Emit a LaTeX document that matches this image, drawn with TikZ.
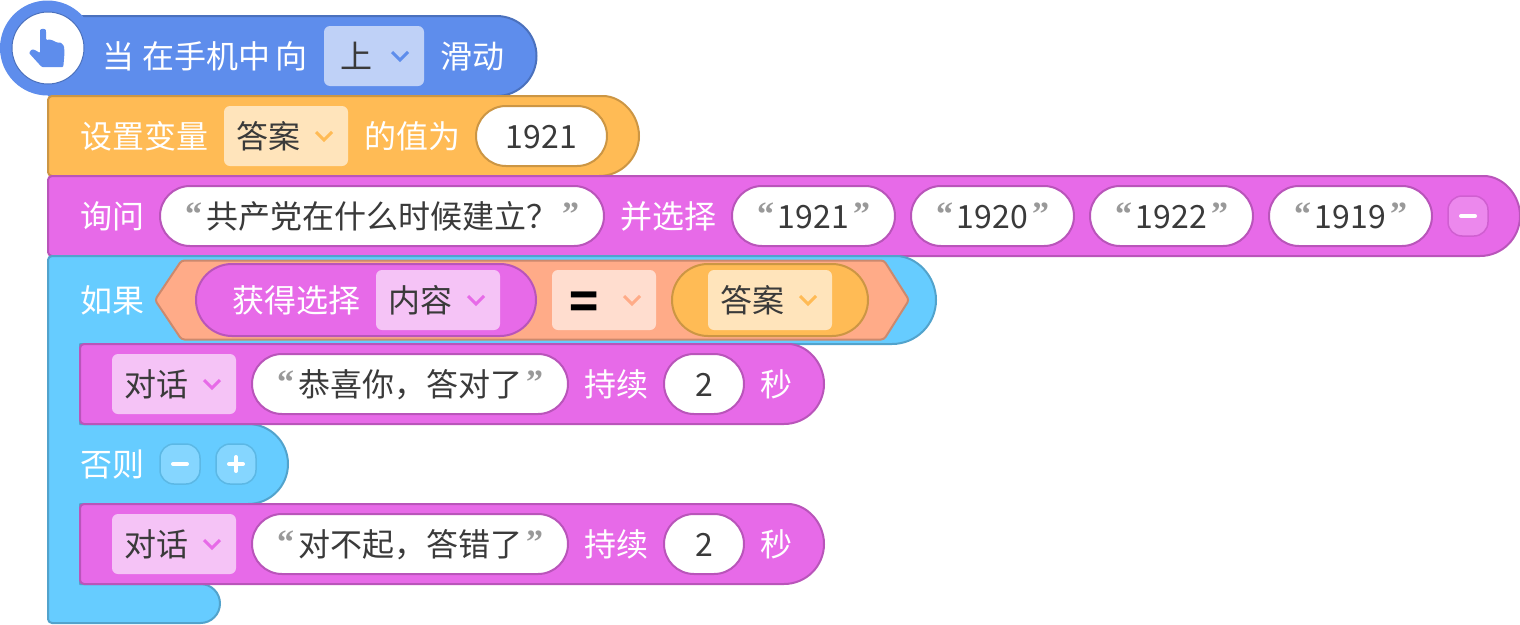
\documentclass[tikz,border=0pt]{standalone}
\usepackage{fontspec}
\setmainfont{Noto Sans CJK SC}
\newfontfamily\quotefont{Liberation Serif}
\usetikzlibrary{positioning}
\definecolor{ourblue}{RGB}{94,141,236}
\definecolor{ourorange}{RGB}{255,187,85}
\definecolor{ourmagenta}{RGB}{231,106,232}
\definecolor{ourcyan}{RGB}{102,204,255}
\definecolor{oursalmon}{RGB}{255,171,136}
\definecolor{ourink}{RGB}{58,58,58}
\newcommand{\bigfont}{\fontsize{32}{32}\selectfont}
% block with a round right end, corners of 4pt on the left
\newcommand{\stackblock}[6][40]{
  \draw[blockline=#2] (#3,#5) [rounded corners=4pt] -- ({#4-#1},#5) [sharp corners] arc (90:-90:#1) [rounded corners=4pt] -- (#3,#6) -- cycle;
}
\newcommand{\menufield}[6][12pt]{
  \node[menubox=#2, minimum width=#4, #3] (#5) {};
  \node[fieldtext, right=#1 of #5.west] (#5text) {#6};
  \draw[menuarrow=#2] ([xshift=-32pt,yshift=4pt]#5.east) -- ++(8,-8) -- ++(8,8);
}
\newcommand{\quotedpill}[4]{
  \node[stringpill=#2, #1] (#3) {#4};
  \node[quotemark, right=25pt of #3.west] (#3open) {“};
  \node[quotemark, left=25pt of #3.east] (#3close) {”};
}

\begin{document}
\begin{tikzpicture}[
  x=1pt, y=1pt,
  every node/.style={font=\bigfont, inner sep=0pt, outer sep=0pt},
  blockline/.style={draw=#1!80!black, fill=#1, line width=2pt, line join=round},
  word/.style={text=white, minimum height=32pt, text height=28.2pt, text depth=3.8pt},
  fieldtext/.style={text=ourink, minimum height=32pt, text height=28.2pt, text depth=3.8pt},
  menubox/.style={fill=#1!40!white, rounded corners=6pt, minimum height=60pt},
  menuarrow/.style={draw=#1, line width=3pt},
  stringpill/.style={draw=ourmagenta!80!black, fill=white, line width=2pt, text=ourink, rounded corners=30pt, minimum width=#1, minimum height=60pt, text height=28.2pt, text depth=3.8pt},
  quotemark/.style={font=\quotefont\bfseries\fontsize{34}{34}\selectfont, text=black!40, text height=25pt, text depth=0pt, yshift=3pt},
  slotpill/.style={draw=#1!80!black, fill=#1, line width=2pt, rounded corners=36pt, minimum height=72pt},
  roundbutton/.style={draw=#1!90!black, fill=#1!80!white, line width=1.5pt, rounded corners=14pt, minimum width=40pt, minimum height=40pt},
  buttonmark/.style={draw=white, line width=4pt, line cap=round}
]
\useasboundingbox (0,0) rectangle (1520,-624);

% hat
\fill[ourblue] (48,-16) -- (496.5,-16) arc (90:-90:40) -- (48,-96) -- cycle;
\draw[ourblue!80!black, line width=2pt] (60,-16) -- (496.5,-16) arc (90:-90:40);
\fill[ourblue] (47.5,-48) circle (47.5);
\draw[ourblue!80!black, fill=white, line width=1pt] (48,-48) circle (36);
\fill[ourblue, rounded corners=1pt] (40,-53) -- (40,-31) .. controls (40.5,-28.5) and (45.5,-28.5) .. (46,-31) -- (46,-40) -- (50,-39.5) -- (53,-40.5) -- (56.7,-42.5) -- (60.7,-42.5) -- (64,-46) -- (64.5,-53) -- (63.3,-67) -- (41.7,-67) -- (29,-53) -- (31.7,-49.3) -- (35,-50) -- cycle;
\node[word, anchor=west] (hatword) at (102,-56) {当\hspace{8pt}在手机中\hspace{6pt}向};
\menufield[16pt]{ourblue}{right=16pt of hatword}{100pt}{dirmenu}{上}
\node[word, right=16pt of dirmenu] (slideword) {滑动};

% set variable
\stackblock{ourorange}{48}{639}{-96}{-176}
\node[word, anchor=west] (setword) at (80,-136) {设置变量};
\menufield{ourorange}{right=16pt of setword}{124pt}{varmenu}{答案}
\node[word, right=16pt of varmenu] (valueword) {的值为};
\node[stringpill=131pt, draw=ourorange!80!black, right=16pt of valueword] (valuepill) {1921};

% ask
\stackblock{ourmagenta}{48}{1520}{-176}{-256}
\node[word, anchor=west] (askword) at (80,-216) {询问};
\quotedpill{right=16pt of askword}{444pt}{askpill}{共产党在什么时候建立？}
\node[word, right=16pt of askpill] (chooseword) {并选择};
\quotedpill{right=16pt of chooseword}{163pt}{choiceA}{1921}
\quotedpill{right=16pt of choiceA}{163pt}{choiceB}{1920}
\quotedpill{right=16pt of choiceB}{163pt}{choiceC}{1922}
\quotedpill{right=16pt of choiceC}{163pt}{choiceD}{1919}
\node[roundbutton=ourmagenta, right=16pt of choiceD] (askminus) {};
\draw[buttonmark] ([xshift=-7pt]askminus.center) -- ([xshift=7pt]askminus.center);

% if else
\draw[blockline=ourcyan] (48,-256) [rounded corners=4pt] -- (892,-256) [sharp corners] arc (90:-90:44) -- (80,-344) -- (80,-424) -- (248,-424) arc (90:-90:40) -- (80,-504) -- (80,-584) -- (200.5,-584) arc (90:-90:19.5) [rounded corners=4pt] -- (48,-623) -- cycle;
\node[word, anchor=west] (ifword) at (80,-300) {如果};
\draw[blockline=oursalmon, rounded corners=3pt] (155,-300) -- (181.5,-260.5) -- (884,-260.5) -- (909,-300) -- (884,-339.5) -- (181.5,-339.5) -- cycle;
\node[slotpill=ourmagenta, minimum width=340pt, right=52pt of ifword] (getpill) {};
\node[word, right=36pt of getpill.west] (getword) {获得选择};
\menufield{ourmagenta}{right=16pt of getword}{124pt}{partmenu}{内容}
\menufield{oursalmon}{right=16pt of getpill}{104pt}{opmenu}{}
\node[fieldtext, text=black, font=\fontsize{48}{48}\bfseries\selectfont, right=17pt of opmenu.west, yshift=-7pt] (optext) {=};
\node[slotpill=ourorange, minimum width=196pt, right=16pt of opmenu] (varpill) {};
\menufield{ourorange}{right=36pt of varpill.west}{124pt}{varslot}{答案}

% first reply
\stackblock{ourmagenta}{80}{824}{-344}{-424}
\menufield{ourmagenta}{anchor=west, at={(112,-384)}}{124pt}{talkmenuA}{对话}
\quotedpill{right=16pt of talkmenuA}{316pt}{talkpillA}{恭喜你，答对了}
\node[word, right=16pt of talkpillA] (lastwordA) {持续};
\node[stringpill=80pt, right=16pt of lastwordA] (timepillA) {2};
\node[word, right=16pt of timepillA] (secwordA) {秒};

% else
\node[word, anchor=west] (elseword) at (80,-464) {否则};
\node[roundbutton=ourcyan, right=16pt of elseword] (elseminus) {};
\node[roundbutton=ourcyan, right=16pt of elseminus] (elseplus) {};
\draw[buttonmark] ([xshift=-7pt]elseminus.center) -- ([xshift=7pt]elseminus.center);
\draw[buttonmark] ([xshift=-7pt]elseplus.center) -- ([xshift=7pt]elseplus.center);
\draw[buttonmark] ([yshift=-7pt]elseplus.center) -- ([yshift=7pt]elseplus.center);

% second reply
\stackblock{ourmagenta}{80}{824}{-504}{-584}
\menufield{ourmagenta}{anchor=west, at={(112,-544)}}{124pt}{talkmenuB}{对话}
\quotedpill{right=16pt of talkmenuB}{316pt}{talkpillB}{对不起，答错了}
\node[word, right=16pt of talkpillB] (lastwordB) {持续};
\node[stringpill=80pt, right=16pt of lastwordB] (timepillB) {2};
\node[word, right=16pt of timepillB] (secwordB) {秒};
\end{tikzpicture}
\end{document}
